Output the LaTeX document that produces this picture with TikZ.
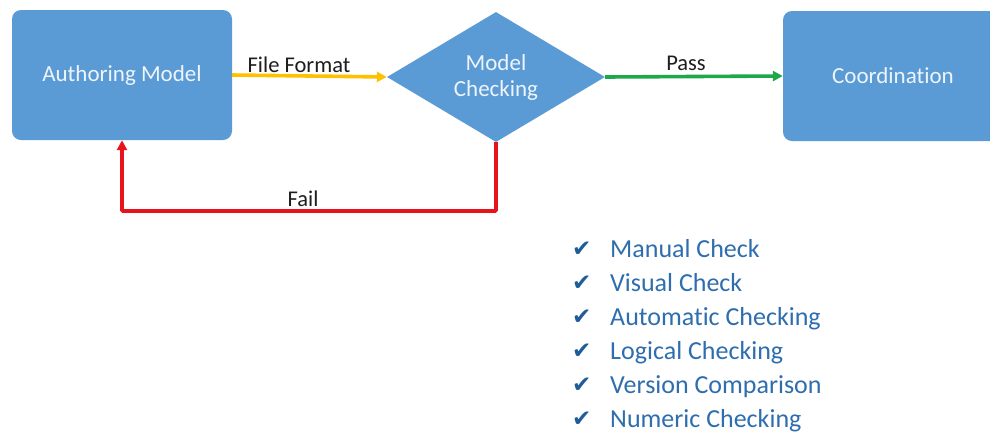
\documentclass[tikz,border=0pt]{standalone}
\usepackage{fontspec}
\setmainfont{Carlito}[Ligatures=NoCommon]
\newfontfamily\symfont{DejaVu Sans}
\usetikzlibrary{shapes.geometric,arrows.meta}

\definecolor{boxblue}{HTML}{5B9BD5}
\definecolor{boxtext}{HTML}{EEF4FB}
\definecolor{flowyellow}{HTML}{FFC000}
\definecolor{flowgreen}{HTML}{1FA84A}
\definecolor{flowred}{HTML}{E8141B}
\definecolor{listblue}{HTML}{2E6EAE}
\definecolor{tickblue}{HTML}{1F5C9A}
\definecolor{labelgray}{HTML}{1E1E1E}

\tikzset{
  stage/.style={rectangle, rounded corners=9pt, fill=boxblue, text=boxtext,
    minimum width=220pt, minimum height=130pt, inner sep=0pt,
    font=\fontsize{23}{27}\selectfont},
  decision/.style={diamond, fill=boxblue, text=boxtext, aspect=1.68,
    minimum width=218pt, minimum height=130pt, inner sep=0pt, align=center,
    font=\fontsize{23}{26}\selectfont},
  flow/.style={line width=3.6pt, -{Triangle[length=10pt,width=10pt]}},
  flowlabel/.style={text=labelgray, font=\fontsize{22.5}{26}\selectfont, inner sep=0pt},
  tick/.style={text=tickblue, font=\symfont\fontsize{23}{26}\selectfont, anchor=base west, inner sep=0pt},
  item/.style={text=listblue, font=\fontsize{26}{30}\selectfont, anchor=base west, inner sep=0pt}
}

\begin{document}
\begin{tikzpicture}[x=1pt, y=-1pt]
  \useasboundingbox (0,0) rectangle (990,432);
  \fill[white] (0,0) rectangle (990,432);
  \clip (0,0) rectangle (990,432);

  % process stages
  \node[stage] (author) at (122,75) {Authoring Model};
  \node[decision] (check) at (496,77) {Model\\Checking};
  \node[stage] (coord) at (893,76) {Coordination};

  % connectors
  \draw[flow, flowyellow] (author.east) -- (check.west);
  \draw[flow, flowgreen] (check.east) -- (coord.west);
  \coordinate (failcorner) at (496,211);
  \draw[flow, flowred, rounded corners=1pt] (check.south) -- (failcorner) -| (author.south);

  % connector labels
  \node[flowlabel] (lblformat) at (299,65) {File Format};
  \node[flowlabel] (lblpass) at (686,63) {Pass};
  \node[flowlabel] (lblfail) at (303,199) {Fail};

  % checking methods
  \foreach \y/\txt [count=\i] in {257/Manual Check, 291/Visual Check,
      325/Automatic Checking, 359/Logical Checking,
      393/Version Comparison, 427/Numeric Checking} {
    \node[tick] (tick\i) at (572,\y-1) {✔};
    \node[item] (item\i) at (610,\y) {\txt};
  }
\end{tikzpicture}
\end{document}
